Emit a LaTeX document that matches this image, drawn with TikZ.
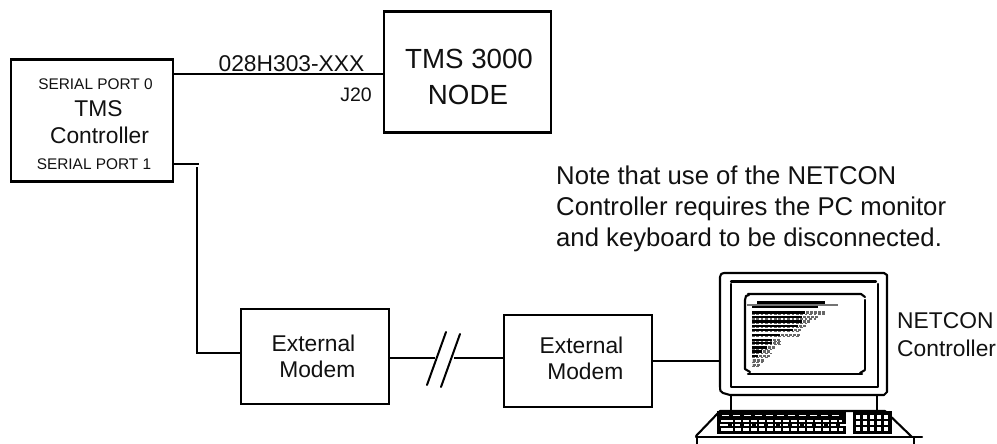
\documentclass[tikz,border=0pt]{standalone}
\usepackage{fontspec}
\setmainfont{Liberation Sans}
\definecolor{ink}{HTML}{111111}
\tikzset{
 box/.style={draw=black,line width=2.2pt,inner sep=0pt,fill=white},
 wire/.style={draw=black,line width=2pt},
 lab/.style={inner sep=0pt,text=ink,font=\fontsize{22.8}{26}\selectfont},
 notelab/.style={inner sep=0pt,text=ink,font=\fontsize{25.7}{30}\selectfont},
 big/.style={inner sep=0pt,text=ink,font=\fontsize{27.7}{32}\selectfont},
 small/.style={inner sep=0pt,text=ink,font=\fontsize{15.4}{18}\selectfont},
 jlab/.style={inner sep=0pt,text=ink,font=\fontsize{19.5}{22}\selectfont},
 mon/.style={draw=black,line width=2.1pt,line cap=round,line join=round},
}
\begin{document}
\begin{tikzpicture}[x=1pt,y=-1pt]
\useasboundingbox (0,0) rectangle (997,444);
% boxes
\node[box,minimum width=162pt,minimum height=122pt] (tms) at (92,120.5) {};
\node[box,minimum width=167pt,minimum height=121pt] (tnode) at (467.5,72) {};
\node[box,minimum width=148pt,minimum height=95pt] (m1) at (315,356.7) {};
\node[box,minimum width=148pt,minimum height=92pt] (m2) at (578,361) {};
% box texts
\node[small] (sp0) at (95.5,84) {SERIAL PORT 0};
\node[lab] (t1) at (98.5,108.5) {TMS};
\node[lab] (t2) at (99.5,135) {Controller};
\node[small] (sp1) at (94,164) {SERIAL PORT 1};
\node[big] (n1) at (469,58.5) {TMS 3000};
\node[big] (n2) at (468,94.5) {NODE};
\node[lab,anchor=base east] (e1) at (355.5,351) {External};
\node[lab,anchor=base east] (e2) at (355.5,377) {Modem};
\node[lab,anchor=base east] (e3) at (623.5,353) {External};
\node[lab,anchor=base east] (e4) at (623.5,379) {Modem};
% connector labels
\node[lab] (cable) at (291.5,63.5) {028H303-XXX};
\node[jlab] (j20) at (356,95) {J20};
% note
\node[notelab,anchor=base west] (note1) at (556,184) {Note that use of the NETCON};
\node[notelab,anchor=base west] (note2) at (556,215) {Controller requires the PC monitor};
\node[notelab,anchor=base west] (note3) at (556,246) {and keyboard to be disconnected.};
\node[lab,anchor=base west] (nc1) at (897,328) {NETCON};
\node[lab,anchor=base west] (nc2) at (897,356.5) {Controller};
% monitor outline as a node for connection
\coordinate (pcw) at (720,360.5);
% connectors
\coordinate (a0) at (tms.east |- 0,74);
\coordinate (a1) at (tnode.west |- 0,74);
\draw[wire] (a0) -- (a1);
\coordinate (b0) at (tms.east |- 0,164);
\coordinate (b1) at (198.5,164);
\draw[wire] (b0) -- (b1);
\coordinate (c0) at (197,167);
\coordinate (c1) at (197,352.5);
\draw[wire] (c0) -- (c1) -- (m1.west |- c1);
\coordinate (d0) at (m1.east |- 0,358.3);
\coordinate (d1) at (435,358.3);
\coordinate (d2) at (454,358.3);
\coordinate (d3) at (m2.west |- 0,358.3);
\draw[wire] (d0) -- (d1);
\draw[wire] (d2) -- (d3);
\coordinate (s1a) at (427,385);\coordinate (s1b) at (446,332);
\coordinate (s2a) at (441,387);\coordinate (s2b) at (460,334);
\draw[wire,line cap=round] (s1a) -- (s1b);
\draw[wire,line cap=round] (s2a) -- (s2b);
\draw[wire] (m2.east |- pcw) -- (pcw);
% monitor
\draw[mon] (724,273) -- (884,273) -- (887,275) -- (887,392) -- (884,395) -- (730,395) -- (723,393) .. controls (720,392) and (720,390) .. (720,387) -- (720,277) .. controls (720,274) and (722,273) .. (724,273);
\draw[mon] (731,281.5) -- (876,281.5);
\draw[mon] (878,284) -- (878,387) -- (731,387) -- (731,284);
\draw[mon] (748,294) -- (861,294) -- (865,297);
\draw[mon] (865,300) -- (865,369);
\draw[mon] (865,370) -- (860,373);
\draw[mon] (862,374) -- (748,374);
\draw[mon] (750,372) -- (745,369) -- (745,300) -- (746,296) -- (749,295);
% screen text
\fill[black] (757,301.2) rectangle (825,303.6);
\fill[black!55] (747,304.4) rectangle (838,305.8);
\fill[black] (752,306.2) rectangle (818,308.4);
\foreach \yy/\dk/\dt in {312.7/805/825,317.3/802/815,321.7/802/807,326/798/802,330/793/798,335/780/798,340/772/780,343/772/780,347.7/767/772,351.7/762/770,356/758/767,360.7/752/762,365/752/758}{
 \fill[black] (752,\yy-1.5) rectangle (\dk,\yy+1.1);
 \foreach \q in {752,756.4,...,\dt}{\fill[black!60] (\q,\yy+1.1) rectangle (\q+2.6,\yy+2.4);}
 \pgfmathtruncatemacro{\st}{\dk+1}
 \pgfmathtruncatemacro{\sn}{\dk+5}
 \ifnum\dt>\dk
 \foreach \q in {\st,\sn,...,\dt}{\fill[black!60] (\q,\yy-1.5) rectangle (\q+2.8,\yy+1.1);}
 \fi
}
% neck and keyboard shell
\draw[mon] (731,396) -- (731,411);
\draw[mon] (877,396) -- (877,411);
\draw[mon] (720,411) -- (885,411) -- (912,437);
\draw[mon] (720,411) -- (696,436);
\draw[mon] (696,437) -- (922,437);
\draw[mon] (697,437) -- (697,444);
\draw[mon] (914,437) -- (914,444);
% main keys
\fill[black] (717,411) rectangle (846,434);
\fill[black] (853,411) rectangle (892,434);
\foreach \q in {722,733,...,840}{\fill[white] (\q,414.6) rectangle (\q+6.5,416.2);}
\fill[white] (721,419.5) rectangle (842,421.5);
\foreach \q in {720,732,...,840}{\fill[white] (\q,423.5) rectangle (\q+8,425.5);}
\fill[white] (721,427.5) rectangle (843,430.5);
\foreach \q in {733,741,...,840}{\fill[black] (\q,419) rectangle (\q+1.8,431);}
% numpad
\foreach \q in {856,863,870,877,884}{\fill[white] (\q,414.5) rectangle (\q+4,418.5);
 \fill[white] (\q,420.5) rectangle (\q+4,424.5);
 \fill[white] (\q,427) rectangle (\q+4,431);}
\end{tikzpicture}
\end{document}
